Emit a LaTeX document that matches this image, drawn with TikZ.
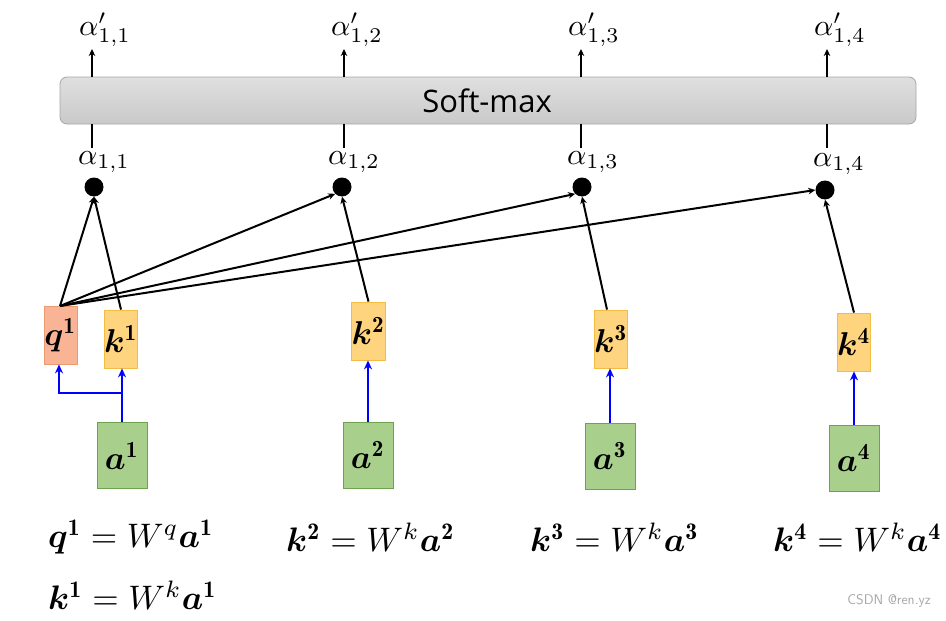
\documentclass[tikz,border=0pt]{standalone}
\usepackage{amsmath}
\usepackage{bm}
\usepackage{graphicx}
\usepackage{fontspec}
\newfontfamily\uisans{Open Sans}
\usetikzlibrary{arrows.meta}
\newcommand{\Mx}[2]{\scalebox{#1}{$#2$}}
\definecolor{qfill}{HTML}{F8B494}
\definecolor{qdraw}{HTML}{E99A70}
\definecolor{kfill}{HTML}{FFD47F}
\definecolor{kdraw}{HTML}{F2BC45}
\definecolor{afill}{HTML}{A8CF8C}
\definecolor{adraw}{HTML}{6EA34E}
\definecolor{barline}{HTML}{A6A6A6}
\begin{document}
\begin{tikzpicture}[x=1pt,y=-1pt,
  qbox/.style={draw=qdraw,fill=qfill,line width=0.8pt,minimum width=33pt,minimum height=58pt,inner sep=0pt},
  kbox/.style={draw=kdraw,fill=kfill,line width=0.8pt,minimum width=33pt,minimum height=58pt,inner sep=0pt},
  abox/.style={draw=adraw,fill=afill,line width=0.8pt,minimum width=50pt,minimum height=66pt,inner sep=0pt},
  dotnode/.style={circle,fill=black,minimum size=19pt,inner sep=0pt},
  alab/.style={inner sep=0pt},
  eqn/.style={inner sep=0pt,anchor=west},
  blk/.style={draw=black,line width=2pt,-{Stealth[length=7pt,width=6.5pt]}},
  blu/.style={draw=blue,line width=2.4pt,-{Stealth[length=9pt,width=8pt]}},
]
\useasboundingbox (0,0) rectangle (946,621);

% Soft-max bar
\node[draw=barline,line width=0.8pt,rounded corners=7pt,top color=gray!25,bottom color=gray!42,minimum width=856pt,minimum height=47pt,inner sep=0pt] (bar) at (488,100.5) {};
\node[font=\uisans\fontsize{31}{36}\selectfont,inner sep=0pt] (sm) at (487,101) {Soft-max};

% top labels
\node[alab] (ap1) at (105,30) {\Mx{3}{\alpha'_{1,1}}};
\node[alab] (ap2) at (357,30) {\Mx{3}{\alpha'_{1,2}}};
\node[alab] (ap3) at (594,30) {\Mx{3}{\alpha'_{1,3}}};
\node[alab] (ap4) at (840,30) {\Mx{3}{\alpha'_{1,4}}};
\coordinate (t1) at (92,49);
\coordinate (t2) at (344,49);
\coordinate (t3) at (581,49);
\coordinate (t4) at (827,49);
\coordinate (b1) at (92,77);
\coordinate (b2) at (344,77);
\coordinate (b3) at (581,77);
\coordinate (b4) at (827,77);
\foreach \i in {1,2,3,4} \draw[blk] (b\i) -- (t\i);

% lower labels and lines
\coordinate (c1) at (92,124);
\coordinate (c2) at (344,124);
\coordinate (c3) at (581,124);
\coordinate (c4) at (827,124);
\coordinate (d1) at (92,148);
\coordinate (d2) at (344,148);
\coordinate (d3) at (581,148);
\coordinate (d4) at (827,148);
\foreach \i in {1,2,3,4} \draw[line width=2pt] (c\i) -- (d\i);
\node[alab] (al1) at (104,162) {\Mx{3}{\alpha_{1,1}}};
\node[alab] (al2) at (354,162) {\Mx{3}{\alpha_{1,2}}};
\node[alab] (al3) at (593,162) {\Mx{3}{\alpha_{1,3}}};
\node[alab] (al4) at (839,164) {\Mx{3}{\alpha_{1,4}}};

% dots
\node[dotnode] (p1) at (94,187) {};
\node[dotnode] (p2) at (342,187) {};
\node[dotnode] (p3) at (582,187) {};
\node[dotnode] (p4) at (825,190) {};

% q, k boxes
\node[qbox] (q1) at (60.5,335) {\Mx{3.3}{\bm{q}^{\mathbf{1}}}};
\node[kbox] (k1) at (121,339) {\Mx{3.3}{\bm{k}^{\mathbf{1}}}};
\node[kbox] (k2) at (368.5,331) {\Mx{3.3}{\bm{k}^{\mathbf{2}}}};
\node[kbox] (k3) at (611,339) {\Mx{3.3}{\bm{k}^{\mathbf{3}}}};
\node[kbox] (k4) at (854,342) {\Mx{3.3}{\bm{k}^{\mathbf{4}}}};

% a boxes
\node[abox] (a1) at (122,455.5) {\Mx{3.3}{\bm{a}^{\mathbf{1}}}};
\node[abox] (a2) at (368,455) {\Mx{3.3}{\bm{a}^{\mathbf{2}}}};
\node[abox] (a3) at (610,456) {\Mx{3.3}{\bm{a}^{\mathbf{3}}}};
\node[abox] (a4) at (854,458) {\Mx{3.3}{\bm{a}^{\mathbf{4}}}};

% blue arrows
\coordinate (j1) at (122,393);
\draw[blu] (a1.north) -- (k1.south -| a1.north);
\draw[blu] (j1) -- (59,393) -- (q1.south -| 59,0);
\draw[blu] (a2.north) -- (k2.south -| a2.north);
\draw[blu] (a3.north) -- (k3.south -| a3.north);
\draw[blu] (a4.north) -- (k4.south);

% black arrows
\coordinate (qt) at (60,306);
\draw[blk] (qt) -- (p1.south);
\draw[blk] (k1.north) -- (p1.south);
\draw[blk] (qt) -- (p2.south west);
\draw[blk] (qt) -- (p3.south west);
\draw[blk] (qt) -- (p4.west);
\draw[blk] (k2.north) -- (p2.south);
\draw[blk] (k3.north -| 607,0) -- (p3.south);
\draw[blk] (k4.north) -- (p4.south);

% equations
\node[eqn] (e1) at (48,537) {\Mx{3.4}{\bm{q}^{\mathbf{1}} = W^{q}\bm{a}^{\mathbf{1}}}};
\node[eqn] (e2) at (48,595) {\Mx{3.4}{\bm{k}^{\mathbf{1}} = W^{k}\bm{a}^{\mathbf{1}}}};
\node[eqn] (e3) at (286,537) {\Mx{3.4}{\bm{k}^{\mathbf{2}} = W^{k}\bm{a}^{\mathbf{2}}}};
\node[eqn] (e4) at (530,537) {\Mx{3.4}{\bm{k}^{\mathbf{3}} = W^{k}\bm{a}^{\mathbf{3}}}};
\node[eqn] (e5) at (773,537) {\Mx{3.4}{\bm{k}^{\mathbf{4}} = W^{k}\bm{a}^{\mathbf{4}}}};

% watermark
\node[font=\fontfamily{lmss}\fontsize{14}{16}\selectfont,text=gray!70,anchor=east,inner sep=0pt] (wm) at (931,601) {CSDN @ren.yz};
\end{tikzpicture}
\end{document}
